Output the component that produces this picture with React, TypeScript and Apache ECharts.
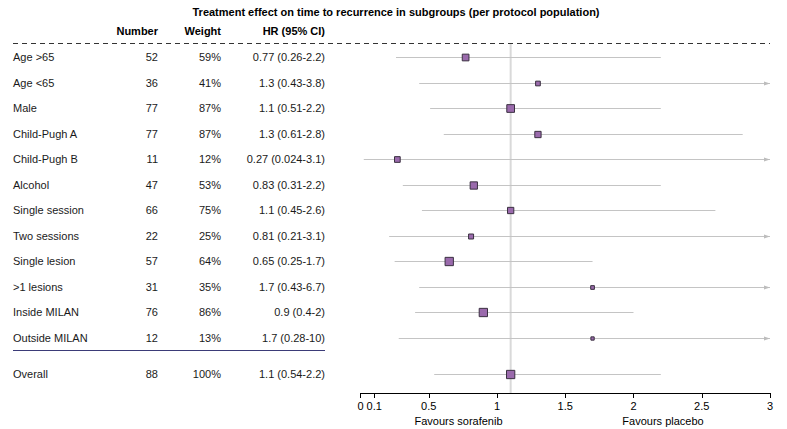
import React, { useEffect, useRef } from "react";
import * as echarts from "echarts";

const title = "Treatment effect on time to recurrence in subgroups (per protocol population)";
const headers = ["Number", "Weight", "HR (95% CI)"];
const subgroups = [
  "Age >65", "Age <65", "Male", "Child-Pugh A", "Child-Pugh B", "Alcohol",
  "Single session", "Two sessions", "Single lesion", ">1 lesions", "Inside MILAN", "Outside MILAN", "Overall",
];
const numbers = [52, 36, 77, 77, 11, 47, 66, 22, 57, 31, 76, 12, 88];
const weights = ["59%", "41%", "87%", "87%", "12%", "53%", "75%", "25%", "64%", "35%", "86%", "13%", "100%"];
const hr = [0.77, 1.3, 1.1, 1.3, 0.27, 0.83, 1.1, 0.81, 0.65, 1.7, 0.9, 1.7, 1.1];
const lower = [0.26, 0.43, 0.51, 0.61, 0.024, 0.31, 0.45, 0.21, 0.25, 0.43, 0.4, 0.28, 0.54];
const upper = [2.2, 3.8, 2.2, 2.8, 3.1, 2.2, 2.6, 3.1, 1.7, 6.7, 2, 10, 2.2];
const hrLabels = [
  "0.77 (0.26-2.2)", "1.3 (0.43-3.8)", "1.1 (0.51-2.2)", "1.3 (0.61-2.8)", "0.27 (0.024-3.1)",
  "0.83 (0.31-2.2)", "1.1 (0.45-2.6)", "0.81 (0.21-3.1)", "0.65 (0.25-1.7)", "1.7 (0.43-6.7)",
  "0.9 (0.4-2)", "1.7 (0.28-10)", "1.1 (0.54-2.2)",
];
// visual box sizes
const boxSizes = [6.7, 4.7, 7.7, 6.3, 5.7, 7.3, 6.3, 5, 8.3, 3.7, 8.3, 3.3, 8.3];
const xTicks = [0, 0.1, 0.5, 1, 1.5, 2, 2.5, 3];
const refValue = 1.1;
const xMin = 0;
const xMax = 3;

const FONT = "'Liberation Sans', Arial, Helvetica, sans-serif";
// row layout positions (row index along the y value axis)
const rowPos = subgroups.map((_, i) => (i < 12 ? i : 12.43));
const yMin = -0.52;
const yMax = 13.165;

export default function App() {
  const ref = useRef<HTMLDivElement>(null);
  useEffect(() => {
    document.body.style.margin = "0";
    const chart = echarts.init(ref.current!, undefined, { renderer: "svg" });
    const forestData = hr.map((v, i) => [v, rowPos[i], lower[i], upper[i], boxSizes[i]]);
    const tableData = subgroups.map((_, i) => [0, rowPos[i], i]);
    const option: any = {
      animation: false,
      backgroundColor: "#fff",
      grid: { left: 360.5, right: 17, top: 44, bottom: 36 },
      xAxis: {
        type: "value",
        position: "bottom",
        min: xMin,
        max: xMax,
        interval: 0.5,
        splitLine: { show: false },
        axisLine: { show: true, onZero: false, lineStyle: { color: "#000", width: 1 } },
        axisTick: { show: true, length: 5, lineStyle: { color: "#000" }, customValues: xTicks },
        axisLabel: {
          color: "#000",
          fontSize: 11,
          fontFamily: FONT,
          margin: 7,
          customValues: xTicks,
          formatter: (v: number) => String(v),
        },
      },
      yAxis: {
        type: "value",
        inverse: true,
        min: yMin,
        max: yMax,
        show: false,
      },
      graphic: [
        {
          type: "text",
          x: 396,
          y: 12,
          style: {
            text: title,
            font: `bold 11px ${FONT}`,
            fill: "#000",
            textAlign: "center",
            textVerticalAlign: "middle",
          },
        },
        ...headers.map((h, k) => ({
          type: "text",
          x: [158, 221, 325][k],
          y: 31,
          style: {
            text: h,
            font: `bold 11px ${FONT}`,
            fill: "#000",
            textAlign: "right",
            textVerticalAlign: "middle",
          },
        })),
        {
          type: "line",
          shape: { x1: 13, y1: 43.5, x2: 770, y2: 43.5 },
          style: { stroke: "#333", lineWidth: 1, lineDash: [5, 4] },
        },
        {
          type: "line",
          shape: { x1: 13, y1: 350.5, x2: 325, y2: 350.5 },
          style: { stroke: "#3b3b78", lineWidth: 1 },
        },
        {
          type: "text",
          x: 458.5,
          y: 421,
          style: { text: "Favours sorafenib", font: `11px ${FONT}`, fill: "#000", textAlign: "center", textVerticalAlign: "middle" },
        },
        {
          type: "text",
          x: 663,
          y: 421,
          style: { text: "Favours placebo", font: `11px ${FONT}`, fill: "#000", textAlign: "center", textVerticalAlign: "middle" },
        },
      ],
      series: [
        {
          type: "custom",
          name: "ref",
          silent: true,
          data: [[refValue]],
          renderItem: (params: any, api: any) => {
            const p1 = api.coord([api.value(0), yMin]);
            const p2 = api.coord([api.value(0), yMax]);
            return {
              type: "line",
              shape: { x1: p1[0], y1: p1[1], x2: p2[0], y2: p2[1] },
              style: { stroke: "#d9d9d9", lineWidth: 2 },
            };
          },
          z: 1,
        },
        {
          type: "custom",
          name: "forest",
          silent: true,
          data: forestData,
          renderItem: (params: any, api: any) => {
            const x = api.value(0);
            const y = api.value(1);
            const lo = api.value(2);
            const hi = api.value(3);
            const s = api.value(4);
            const pLo = api.coord([Math.max(lo, xMin), y]);
            const pHi = api.coord([Math.min(hi, xMax), y]);
            const pc = api.coord([x, y]);
            const yy = Math.round(pc[1]) + 0.5;
            const children: any[] = [
              {
                type: "line",
                shape: { x1: pLo[0], y1: yy, x2: pHi[0], y2: yy },
                style: { stroke: "#c4c4c4", lineWidth: 1 },
              },
            ];
            if (hi > xMax) {
              children.push({
                type: "polygon",
                shape: { points: [[pHi[0], yy], [pHi[0] - 6, yy - 2], [pHi[0] - 6, yy + 2]] },
                style: { fill: "#bdbdbd" },
              });
            }
            children.push({
              type: "rect",
              shape: { x: pc[0] - s / 2, y: yy - s / 2, width: s, height: s },
              style: { fill: "#9a6aac", stroke: "#3a3040", lineWidth: 1 },
            });
            return { type: "group", children };
          },
          z: 2,
        },
        {
          type: "custom",
          name: "table",
          silent: true,
          data: tableData,
          renderItem: (params: any, api: any) => {
            const i = api.value(2);
            const y = api.coord([0, api.value(1)])[1];
            const mk = (text: string, x: number, align: string) => ({
              type: "text",
              x,
              y,
              style: { text, font: `11px ${FONT}`, fill: "#1a1a1a", textAlign: align, textVerticalAlign: "middle" },
            });
            return {
              type: "group",
              children: [
                mk(subgroups[i], 13, "left"),
                mk(String(numbers[i]), 158, "right"),
                mk(weights[i], 221, "right"),
                mk(hrLabels[i], 325, "right"),
              ],
            };
          },
          clip: false,
          z: 3,
        },
      ],
    };
    chart.setOption(option);
    return () => chart.dispose();
  }, []);
  return <div ref={ref} style={{ width: 787, height: 429 }} />;
}
